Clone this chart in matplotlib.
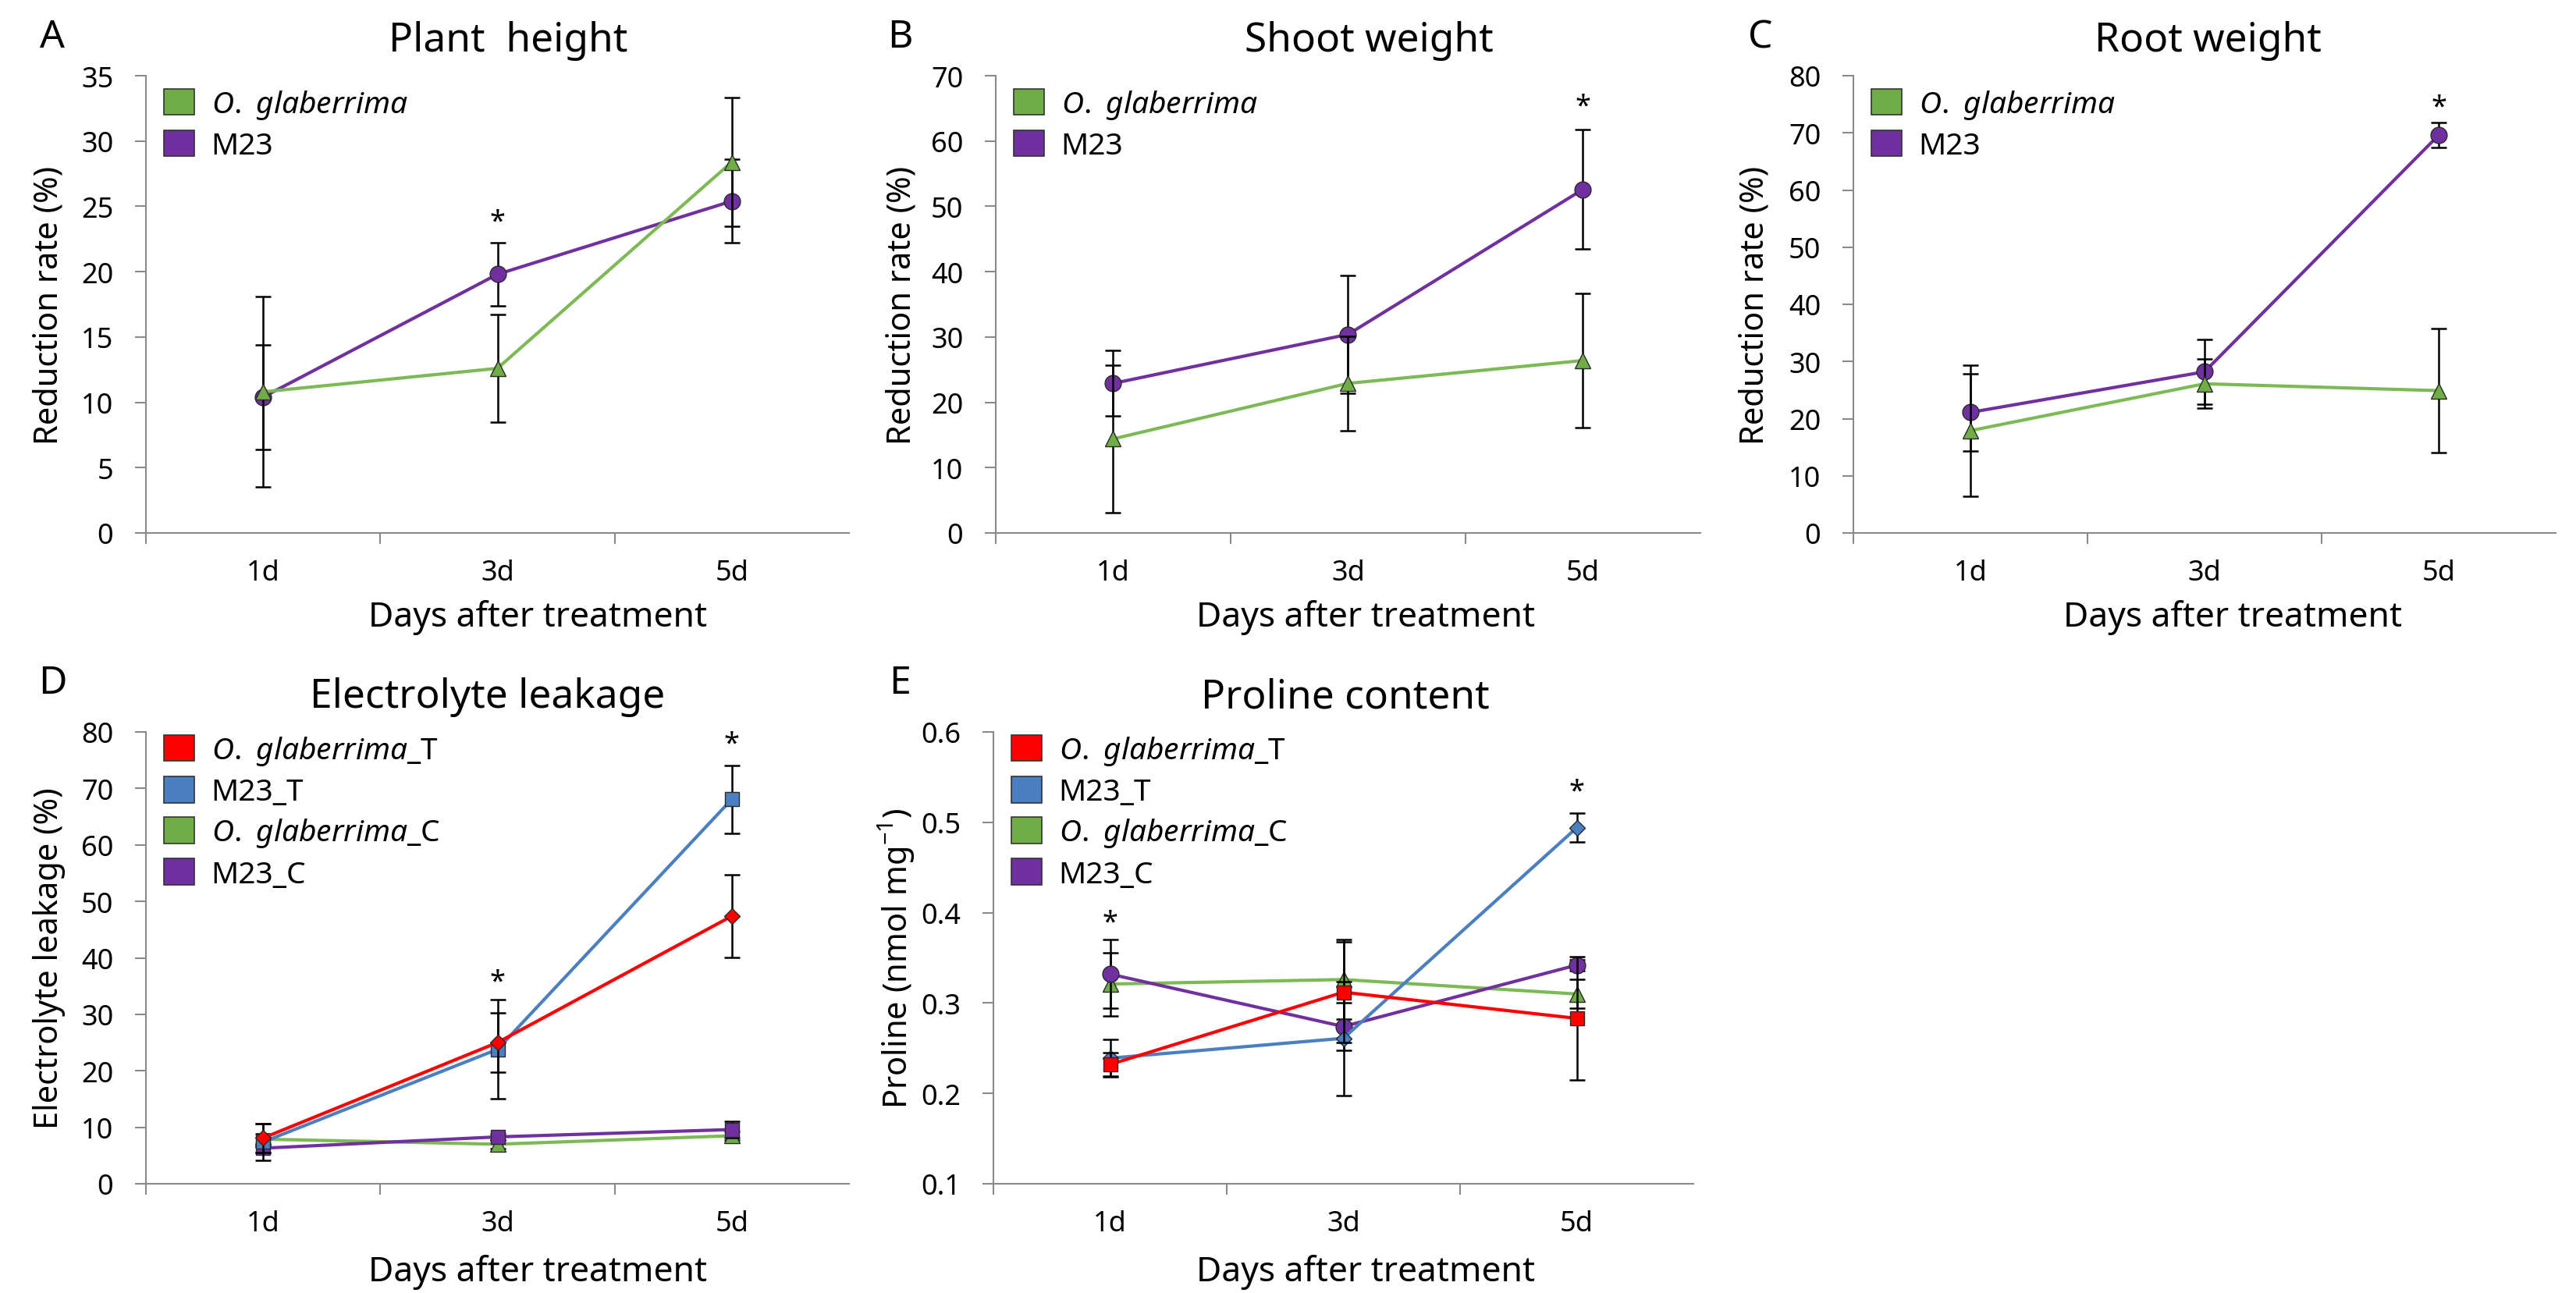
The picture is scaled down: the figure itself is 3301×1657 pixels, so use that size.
import matplotlib.pyplot as plt
from matplotlib.patches import Patch

plt.rcParams['font.family'] = ['Noto Sans', 'DejaVu Sans']
plt.rcParams['mathtext.fontset'] = 'custom'
plt.rcParams['mathtext.rm'] = 'Noto Sans'
plt.rcParams['mathtext.it'] = 'Noto Sans:italic'
plt.rcParams['mathtext.bf'] = 'Noto Sans:bold'
plt.rcParams['mathtext.default'] = 'regular'

days = ['1d', '3d', '5d']
x = [1, 2, 3]

# A - plant height reduction (%)
height_og = [10.8, 12.6, 28.4]
height_og_err = [7.3, 4.1, 4.9]
height_m23 = [10.4, 19.8, 25.4]
height_m23_err = [4.0, 2.4, 3.2]

# B - shoot weight reduction (%)
shoot_og = [14.4, 22.9, 26.4]
shoot_og_err = [11.3, 7.2, 10.3]
shoot_m23 = [22.9, 30.4, 52.6]
shoot_m23_err = [5.0, 9.0, 9.1]

# C - root weight reduction (%)
root_og = [17.9, 26.1, 24.9]
root_og_err = [11.5, 4.3, 10.8]
root_m23 = [21.1, 28.2, 69.6]
root_m23_err = [6.7, 5.7, 2.2]

# D - electrolyte leakage (%)
el_og_t = [8.1, 25.0, 47.4]
el_og_t_err = [2.6, 5.2, 7.3]
el_m23_t = [7.4, 23.8, 68.1]
el_m23_t_err = [3.2, 8.8, 6.0]
el_og_c = [7.9, 7.0, 8.5]
el_og_c_err = [1.0, 0.8, 0.7]
el_m23_c = [6.3, 8.3, 9.6]
el_m23_c_err = [0.8, 0.6, 1.5]

# E - proline content (nmol mg-1)
pro_og_t = [0.232, 0.312, 0.283]
pro_og_t_err = [0.013, 0.056, 0.068]
pro_m23_t = [0.239, 0.261, 0.494]
pro_m23_t_err = [0.021, 0.063, 0.016]
pro_og_c = [0.321, 0.326, 0.310]
pro_og_c_err = [0.035, 0.044, 0.016]
pro_m23_c = [0.332, 0.274, 0.342]
pro_m23_c_err = [0.038, 0.026, 0.006]

# significance stars: (day position, y)
stars_a = [(2, 23.8)]
stars_b = [(3, 65.3)]
stars_c = [(3, 74.5)]
stars_d = [(2, 35.7), (3, 77.9)]
stars_e = [(1, 0.389), (3, 0.534)]

GREEN = '#70AD47'
GREEN_LINE = '#7DBA55'
PURPLE = '#7030A0'
RED = '#FF0000'
BLUE = '#4A7FC1'
AXIS_GRAY = '#8A8A8A'

W, H = 3301, 1658
fig = plt.figure(figsize=(W / 100, H / 100), dpi=100)


def make_axes(px_left, px_right, px_top, px_bottom):
    return fig.add_axes([px_left / W, 1 - px_bottom / H,
                         (px_right - px_left) / W, (px_bottom - px_top) / H])


def style_axes(ax, ylim, yticks, ylabel, title, title_x, xlabel_x, ylabel_x, xlabel_y, fmt='{:g}'):
    ax.set_xlim(0.5, 3.5)
    ax.set_ylim(*ylim)
    ax.set_yticks(yticks)
    ax.set_yticklabels([fmt.format(t) for t in yticks])
    ax.set_xticks([0.5, 1.5, 2.5])
    ax.set_xticklabels([])
    ax.set_xticks(x, minor=True)
    ax.set_xticklabels(days, minor=True)
    ax.tick_params(axis='x', which='major', length=10, width=1.5, color=AXIS_GRAY)
    ax.tick_params(axis='x', which='minor', length=0, pad=24, labelsize=26)
    ax.tick_params(axis='y', length=10, width=1.5, color=AXIS_GRAY, pad=20, labelsize=26)
    for s in ['top', 'right']:
        ax.spines[s].set_visible(False)
    for s in ['left', 'bottom']:
        ax.spines[s].set_color(AXIS_GRAY)
        ax.spines[s].set_linewidth(1.5)
    ax.set_ylabel(ylabel, fontsize=30, fontweight='bold', va='center')
    ax.yaxis.set_label_coords(ylabel_x, 0.5)
    ax.set_xlabel('Days after treatment', fontsize=32, va='center')
    ax.xaxis.set_label_coords(xlabel_x, xlabel_y)
    ax.text(title_x, 1.078, title, transform=ax.transAxes, ha='center', va='center', fontsize=37)


def draw_series(ax, y, err, face, line, marker, ms, z):
    ax.errorbar(x, y, yerr=err, fmt='none', ecolor='black', elinewidth=1.8,
                capsize=7, capthick=1.8, zorder=z)
    ax.plot(x, y, color=line, lw=3.0, marker=marker, ms=ms, mfc=face,
            mec='#2a2a2a', mew=1.0, zorder=z + 0.5)


def add_stars(ax, stars):
    for d, yv in stars:
        ax.text(d, yv, '*', ha='center', va='center', fontsize=26)


def add_legend(ax, labels, colors, anchor_y):
    handles = [Patch(facecolor=c, edgecolor='#333333', linewidth=1.2) for c in colors]
    ax.legend(handles, labels, loc='upper left', bbox_to_anchor=(0.0, anchor_y),
              frameon=False, fontsize=28, handlelength=1.0, handleheight=0.95,
              handletextpad=0.55, labelspacing=0.31, borderaxespad=0.0, borderpad=0.6)


og_it = r'$\mathit{O.\ glaberrima}$'

# ---- A ----
ax = make_axes(187, 1088, 98, 684)
style_axes(ax, (0, 35), range(0, 36, 5), 'Reduction rate (%)', 'Plant  height',
           0.515, 0.557, -0.138, -0.183)
draw_series(ax, height_m23, height_m23_err, PURPLE, PURPLE, 'o', 15, 2)
draw_series(ax, height_og, height_og_err, GREEN, GREEN_LINE, '^', 14, 3)
add_stars(ax, stars_a)
add_legend(ax, [og_it, 'M23'], [GREEN, PURPLE], 1.013)

# ---- B ----
ax = make_axes(1276, 2179, 98, 684)
style_axes(ax, (0, 70), range(0, 71, 10), 'Reduction rate (%)', 'Shoot weight',
           0.53, 0.525, -0.133, -0.183)
draw_series(ax, shoot_m23, shoot_m23_err, PURPLE, PURPLE, 'o', 15, 2)
draw_series(ax, shoot_og, shoot_og_err, GREEN, GREEN_LINE, '^', 14, 3)
add_stars(ax, stars_b)
add_legend(ax, [og_it, 'M23'], [GREEN, PURPLE], 1.013)

# ---- C ----
ax = make_axes(2375, 3275, 98, 684)
style_axes(ax, (0, 80), range(0, 81, 10), 'Reduction rate (%)', 'Root weight',
           0.505, 0.54, -0.14, -0.183)
draw_series(ax, root_m23, root_m23_err, PURPLE, PURPLE, 'o', 15, 2)
draw_series(ax, root_og, root_og_err, GREEN, GREEN_LINE, '^', 14, 3)
add_stars(ax, stars_c)
add_legend(ax, [og_it, 'M23'], [GREEN, PURPLE], 1.013)

# ---- D ----
ax = make_axes(187, 1088, 939, 1518)
style_axes(ax, (0, 80), range(0, 81, 10), 'Electrolyte leakage (%)', 'Electrolyte leakage',
           0.486, 0.557, -0.138, -0.195)
draw_series(ax, el_og_c, el_og_c_err, GREEN, GREEN_LINE, '^', 14, 2)
draw_series(ax, el_m23_c, el_m23_c_err, PURPLE, PURPLE, 's', 13, 3)
draw_series(ax, el_m23_t, el_m23_t_err, BLUE, BLUE, 's', 13, 4)
draw_series(ax, el_og_t, el_og_t_err, RED, RED, 'D', 10, 5)
add_stars(ax, stars_d)
add_legend(ax, [og_it + '_T', 'M23_T', og_it + '_C', 'M23_C'], [RED, BLUE, GREEN, PURPLE], 1.035)

# ---- E ----
ax = make_axes(1273, 2170, 939, 1518)
style_axes(ax, (0.1, 0.6), [0.1, 0.2, 0.3, 0.4, 0.5, 0.6], 'Proline (nmol mg$^{-1}$)',
           'Proline content', 0.503, 0.532, -0.138, -0.195, fmt='{:.1f}')
draw_series(ax, pro_og_c, pro_og_c_err, GREEN, GREEN_LINE, '^', 14, 2)
draw_series(ax, pro_m23_c, pro_m23_c_err, PURPLE, PURPLE, 'o', 15, 3)
draw_series(ax, pro_m23_t, pro_m23_t_err, BLUE, BLUE, 'D', 10, 4)
draw_series(ax, pro_og_t, pro_og_t_err, RED, RED, 's', 13, 5)
add_stars(ax, stars_e)
add_legend(ax, [og_it + '_T', 'M23_T', og_it + '_C', 'M23_C'], [RED, BLUE, GREEN, PURPLE], 1.035)

# panel letters
for letter, px, py in [('A', 67, 48), ('B', 1153, 48), ('C', 2256, 48),
                       ('D', 67, 876), ('E', 1153, 876)]:
    fig.text(px / W, 1 - py / H, letter, ha='center', va='center', fontsize=36)

fig.savefig('out.png', dpi=100, facecolor='white')
